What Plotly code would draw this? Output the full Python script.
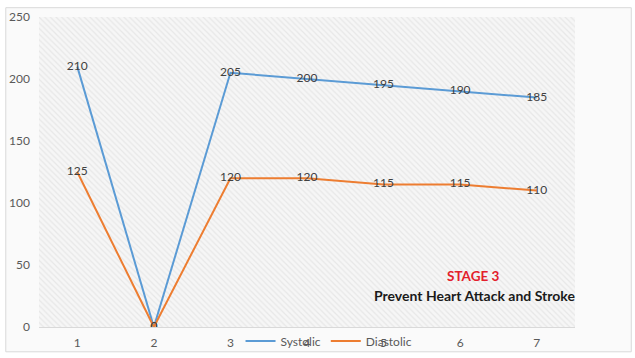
import plotly.graph_objects as go

readings = [1, 2, 3, 4, 5, 6, 7]
systolic = [210, 0, 205, 200, 195, 190, 185]
diastolic = [125, 0, 120, 120, 115, 115, 110]
y_ticks = [0, 50, 100, 150, 200, 250]

BLUE = "#5b9bd5"
ORANGE = "#ed7d31"
FONT = "Lato, 'Open Sans', sans-serif"

fig = go.Figure()

# hatched plot-area background
fig.add_trace(go.Scatter(
    x=[0.5, 7.5, 7.5, 0.5, 0.5], y=[0, 0, 250, 250, 0],
    mode="lines", line=dict(width=0), fill="toself",
    fillcolor="#f4f4f4",
    fillpattern=dict(shape="\\", fgcolor="#d8d8d8", bgcolor="#f6f6f6",
                     size=4, solidity=0.3),
    hoverinfo="skip", showlegend=False,
))

for name, vals, color in [("Systolic", systolic, BLUE), ("Diastolic", diastolic, ORANGE)]:
    fig.add_trace(go.Scatter(
        x=readings, y=vals, name=name, mode="lines+text",
        line=dict(color=color, width=2),
        text=[str(v) for v in vals], textposition="middle center",
        textfont=dict(family=FONT, size=12, color="#404040"),
    ))

fig.update_layout(
    width=635, height=358,
    margin=dict(l=39, r=60, t=17, b=31, autoexpand=False),
    paper_bgcolor="white", plot_bgcolor="#f6f6f6",
    font=dict(family=FONT, size=12, color="#595959"),
    showlegend=True,
    legend=dict(orientation="h", x=0.376, y=-0.045, xanchor="left", yanchor="middle",
                bgcolor="rgba(0,0,0,0)", font=dict(size=12, color="#595959"),
                itemwidth=30, tracegroupgap=0),
    xaxis=dict(range=[0.5, 7.5], tickvals=readings, ticktext=[str(r) for r in readings],
               showgrid=True, gridcolor="#e2e2e2", gridwidth=1,
               minor=dict(dtick=0.5, tick0=0.5, showgrid=True, gridcolor="#e2e2e2"),
               zeroline=False, showline=True, linecolor="#d9d9d9",
               ticks="", ticklabelstandoff=5),
    yaxis=dict(range=[0, 250], tickvals=y_ticks, showgrid=True, gridcolor="#e2e2e2",
               zeroline=False, showline=False, ticks="", ticklabelstandoff=8),
    shapes=[dict(type="rect", xref="paper", yref="paper", layer="below",
                 x0=-0.062, x1=1.105, y0=-0.08, y1=1.03,
                 line=dict(color="#d9d9d9", width=1), fillcolor="#fafafa")],
    annotations=[
        dict(text="<b>STAGE 3</b>", xref="paper", yref="paper",
             x=(473 - 39) / 536, y=(327 - 276) / 310, xanchor="center", yanchor="middle",
             showarrow=False, font=dict(family=FONT, size=13.5, color="#e3202b")),
        dict(text="<b>Prevent Heart Attack and Stroke</b>", xref="paper", yref="paper",
             x=(474 - 39) / 536, y=(327 - 295) / 310, xanchor="center", yanchor="middle",
             showarrow=False, font=dict(family=FONT, size=14, color="#1a1a1a")),
    ],
)

fig.write_html("out.html")
